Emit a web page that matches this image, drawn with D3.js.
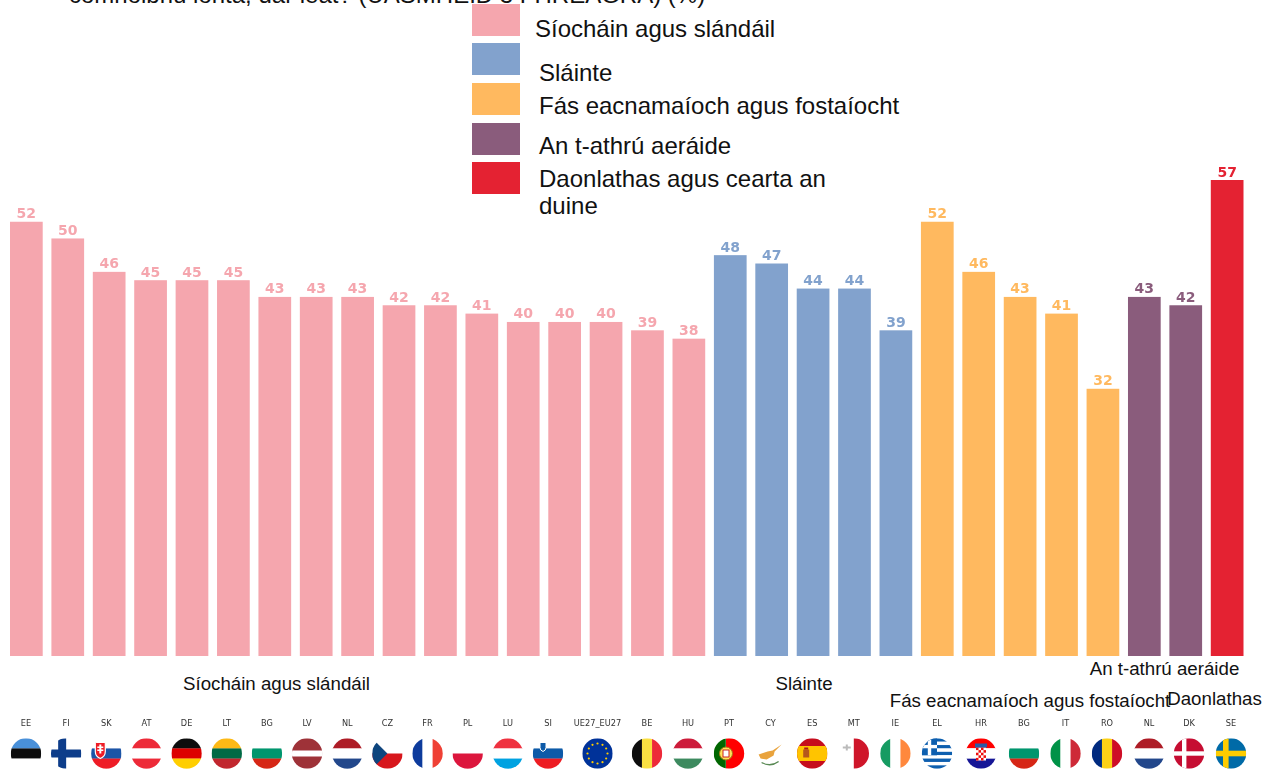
<!DOCTYPE html>
<html><head><meta charset="utf-8">
<script src="https://cdnjs.cloudflare.com/ajax/libs/d3/7.8.5/d3.min.js"></script>
<style>html,body{margin:0;padding:0;background:#fff;overflow:hidden}svg{display:block}text{font-family:"Liberation Sans",Arial,sans-serif}</style>
</head><body><svg id="c" width="1271" height="771"></svg>
<script>
const labels=["EE","FI","SK","AT","DE","LT","BG","LV","NL","CZ","FR","PL","LU","SI","UE27_EU27","BE","HU","PT","CY","ES","MT","IE","EL","HR","BG","IT","RO","NL","DK","SE"];
const values=[52,50,46,45,45,45,43,43,43,42,42,41,40,40,40,39,38,48,47,44,44,39,52,46,43,41,32,43,42,57];
const groupIndex=[0,0,0,0,0,0,0,0,0,0,0,0,0,0,0,0,0,1,1,1,1,1,2,2,2,2,2,3,3,4];
const groupNames=["Síocháin agus slándáil","Sláinte","Fás eacnamaíoch agus fostaíocht","An t-athrú aeráide","Daonlathas"];
const colors=["#f5a6ae","#82a2cd","#ffb95f","#8a5c7c","#e42233"];
const legendNames=[["Síocháin agus slándáil"],["Sláinte"],["Fás eacnamaíoch agus fostaíocht"],["An t-athrú aeráide"],["Daonlathas agus cearta an","duine"]];
const title="comhoibriú ionta, dar leat? (UASMHÉID 3 FHREAGRA) (%)";

const svg=d3.select("#c");
const defs=svg.append("defs");
defs.append("filter").attr("id","soft").append("feGaussianBlur").attr("stdDeviation",0.5);
defs.append("filter").attr("id","softT").append("feGaussianBlur").attr("stdDeviation",0.3);
defs.append("filter").attr("id","softB").append("feGaussianBlur").attr("stdDeviation",0.35);

const x=d3.scaleBand().domain(d3.range(values.length)).range([10,1243.5]).paddingInner(0.21).paddingOuter(0);
const y=d3.scaleLinear().domain([0,57]).range([656,180]);
// the flag row is spaced unevenly in the source
const fx=d3.scaleLinear().domain([0,13,14,15,17,22,23,24,26,27,28,29]).range([26,548,597.5,647,729,937,981,1024,1107,1149,1189,1231]);

svg.append("text").attr("x",69).attr("y",3).attr("font-size",24).attr("fill","#111").text(title);

// bars
svg.append("g").attr("filter","url(#softB)").selectAll("rect").data(values).join("rect")
 .attr("x",(d,i)=>x(i)).attr("width",x.bandwidth()).attr("y",d=>y(d)).attr("height",d=>y(0)-y(d))
 .attr("fill",(d,i)=>colors[groupIndex[i]]);
svg.append("g").attr("filter","url(#softT)").selectAll("text").data(values).join("text")
 .attr("x",(d,i)=>x(i)+x.bandwidth()/2).attr("y",d=>y(d)-3.5).attr("text-anchor","middle")
 .style("font-family","DejaVu Sans").attr("font-weight","bold").attr("font-size",14)
 .attr("fill",(d,i)=>colors[groupIndex[i]]).text(d=>d);

// legend
const legSwatchY=[4,43,83,123,162], legTextY=[[37],[81],[114],[154],[187,214]], legTextX=[535,539,539,539,539];
const leg=svg.append("g");
legendNames.forEach((lines,i)=>{
 leg.append("rect").attr("x",472).attr("y",legSwatchY[i]).attr("width",48).attr("height",32).attr("fill",colors[i]).attr("filter","url(#soft)");
 lines.forEach((t,j)=>leg.append("text").attr("x",legTextX[i]).attr("y",legTextY[i][j]).attr("font-size",24).attr("fill","#111").text(t));
});

// group captions
const capPos=[[276.5,690],[804,690],[1030,707],[1164.5,675],[1214.5,705]];
svg.append("g").selectAll("text").data(groupNames).join("text")
 .attr("x",(d,i)=>capPos[i][0]).attr("y",(d,i)=>capPos[i][1]).attr("text-anchor","middle").attr("font-size",18.7).attr("fill","#111").text(d=>d);

// country labels
svg.append("g").attr("filter","url(#softT)").selectAll("text").data(labels).join("text")
 .attr("x",(d,i)=>fx(i)).attr("y",726).attr("text-anchor","middle").attr("font-size",8.2).attr("fill","#333").style("font-family","DejaVu Sans").text(d=>d);

// flags
const H=(...c)=>({t:"h",c}),V=(...c)=>({t:"v",c});
const flags={
EE:H("#4a90d9","#111111","#ffffff"),FI:{t:"cross",bg:"#fff",c:"#0f3e8a"},SK:H("#ffffff","#1b54a6","#ee1c25"),AT:H("#ed2939","#ffffff","#ed2939"),
DE:H("#111111","#dd0000","#ffce00"),LT:H("#fdb913","#006a44","#c1272d"),BG:H("#ffffff","#00966e","#d62612"),LV:{t:"hw"},
NL:H("#ae1c28","#ffffff","#21468b"),CZ:{t:"cz"},FR:V("#0a3a9c","#ffffff","#ef4135"),PL:H("#ffffff","#dc143c"),LU:H("#ef3340","#ffffff","#00a2e1"),SI:H("#ffffff","#0c5aa8","#ed1c24"),
UE27_EU27:{t:"eu"},BE:V("#111111","#fae042","#ed2939"),HU:H("#cd1f3a","#ffffff","#3d8a5f"),PT:{t:"pt"},CY:{t:"cy"},ES:{t:"es"},MT:{t:"mt"},IE:V("#169b62","#ffffff","#ff883e"),
EL:{t:"gr"},HR:{t:"hr"},IT:V("#009246","#ffffff","#ce2b37"),RO:V("#002b7f","#fcd116","#ce1126"),DK:{t:"dk"},SE:{t:"se"}};
const R=15.2;
const fg=svg.append("g").attr("filter","url(#soft)");
labels.forEach((l,i)=>{
 const cx=fx(i), cy=753.5, id="f"+i;
 defs.append("clipPath").attr("id",id).append("circle").attr("cx",cx).attr("cy",cy).attr("r",R);
 const g=fg.append("g").attr("clip-path",`url(#${id})`);
 const rect=(a,b,w,h,f)=>g.append("rect").attr("x",cx+a).attr("y",cy+b).attr("width",w).attr("height",h).attr("fill",f);
 const f=flags[l];
 if(f.t==="h"){const h=2*R/f.c.length;f.c.forEach((c,k)=>rect(-R,-R+k*h,2*R,h+.2,c));}
 else if(f.t==="v"){const w=2*R/f.c.length;f.c.forEach((c,k)=>rect(-R+k*w,-R,w+.2,2*R,c));}
 else if(f.t==="hw"){rect(-R,-R,2*R,2*R,"#9e3039");rect(-R,-3,2*R,6,"#fff");}
 else if(f.t==="cross"){rect(-R,-R,2*R,2*R,"#fff");rect(-R,-4,2*R,8,f.c);rect(-8,-R,8,2*R,f.c);}
 else if(f.t==="cz"){rect(-R,-R,2*R,R,"#fff");rect(-R,0,2*R,R,"#d7141a");g.append("path").attr("d",`M${cx-R},${cy-R}L${cx},${cy}L${cx-R},${cy+R}Z`).attr("fill","#11457e");}
 else if(f.t==="eu"){rect(-R,-R,2*R,2*R,"#003399");d3.range(12).forEach(k=>{const a=k*Math.PI/6;g.append("circle").attr("cx",cx+10*Math.cos(a)).attr("cy",cy+10*Math.sin(a)).attr("r",1.1).attr("fill","#ffcc00");});}
 else if(f.t==="pt"){rect(-R,-R,12,2*R,"#006600");rect(-3,-R,2*R,2*R,"#ff0000");g.append("circle").attr("cx",cx-3).attr("cy",cy).attr("r",6.5).attr("fill","#ffe25a").attr("stroke","#a8741a");g.append("rect").attr("x",cx-6).attr("y",cy-3.5).attr("width",6).attr("height",7).attr("fill","#fff").attr("stroke","#c22");}
 else if(f.t==="cy"){g.append("path").attr("d",`M${cx-12},${cy+1}L${cx-3},${cy-2}L${cx+2},${cy-3}L${cx+11},${cy-9}L${cx+4},${cy-2}L${cx+3},${cy+2}L${cx-4},${cy+6}L${cx-10},${cy+5}Z`).attr("fill","#e9a33c");g.append("path").attr("d",`M${cx-9},${cy+9}Q${cx},${cy+14} ${cx+8},${cy+8}`).attr("fill","none").attr("stroke","#5a8a55").attr("stroke-width",1.4);}
 else if(f.t==="es"){rect(-R,-R,2*R,2*R,"#c60b1e");rect(-R,-7.5,2*R,15,"#ffc400");rect(-9,-4,6,8,"#b5561f");rect(-8,-6,4,2,"#ad1519");}
 else if(f.t==="mt"){rect(-R,-R,R,2*R,"#ffffff");rect(0,-R,R,2*R,"#cf142b");g.append("path").attr("d",`M${cx-11},${cy-7}h3v-2h2v2h3v2h-3v2h-2v-2h-3z`).attr("fill","#bbb");}
 else if(f.t==="gr"){d3.range(9).forEach(k=>rect(-R,-R+k*30.4/9,2*R,30.4/9+.1,k%2?"#fff":"#0d5eaf"));rect(-R,-R,R,17,"#0d5eaf");rect(-R,-R+6.6,R,3.4,"#fff");rect(-R+6,-R,3.4,17,"#fff");}
 else if(f.t==="hr"){rect(-R,-R,2*R,R*.66,"#ff0000");rect(-R,-R*.34,2*R,R*.68,"#fff");rect(-R,R*.34,2*R,R*.66,"#171796");rect(-5,-6,10,13,"#fff");d3.range(5).forEach(a=>d3.range(4).forEach(b=>{if((a+b)%2==0)rect(-5+b*2.5,-6+a*2.6,2.5,2.6,"#e11");}));rect(-6,-10,12,4,"#2a5ba8");}
 else if(f.t==="dk"){rect(-R,-R,2*R,2*R,"#c60c30");rect(-R,-2.2,2*R,4.4,"#fff");rect(-7,-R,4.4,2*R,"#fff");}
 else if(f.t==="se"){rect(-R,-R,2*R,2*R,"#006aa7");rect(-R,-2.8,2*R,5.6,"#fecc00");rect(-8,-R,5.6,2*R,"#fecc00");}
 if(l==="SK"){g.append("path").attr("d",`M${cx-11},${cy-11}h10v9q0,5 -5,7q-5,-2 -5,-7z`).attr("fill","#ee1c25").attr("stroke","#fff").attr("stroke-width",1.2);rect(-7,-9,2,9,"#fff");rect(-9,-7,6,1.5,"#fff");rect(-9,-4,6,1.5,"#fff");}
 if(l==="SI"){g.append("path").attr("d",`M${cx-8},${cy-11}h6v5q0,3 -3,4q-3,-1 -3,-4z`).attr("fill","#0c5aa8").attr("stroke","#fff").attr("stroke-width",1);}
});
</script></body></html>
